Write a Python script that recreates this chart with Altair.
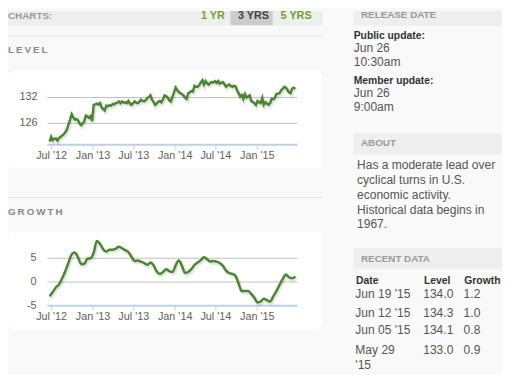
import altair as alt
import pandas as pd

# ---------------- data ----------------
first_week = "2012-06-22"  # weekly observations, Fridays, through Jun 19 2015
level_values = [
    121.8, 122.9, 122.1, 122.4, 122.5, 122.0, 122.6, 122.9, 123.2, 123.5,
    124.0, 124.6, 125.8, 126.9, 128.1, 127.4, 126.9, 127.0, 126.7, 126.0,
    125.6, 126.0, 126.5, 127.8, 127.6, 127.3, 127.7, 126.5, 130.3, 130.4,
    130.6, 130.4, 130.7, 129.7, 129.3, 129.0, 130.1, 130.0, 130.2, 130.1,
    130.5, 130.4, 130.7, 130.8, 131.1, 130.7, 131.1, 130.8, 130.9, 130.7,
    131.2, 130.6, 130.3, 130.7, 131.1, 130.8, 130.7, 131.0, 131.5, 131.2,
    131.1, 131.4, 131.9, 132.1, 132.5, 131.5, 131.0, 130.3, 130.6, 131.0,
    131.2, 130.9, 131.6, 132.5, 132.3, 132.0, 131.4, 131.1, 132.2, 133.2,
    134.3, 133.7, 133.3, 133.0, 132.8, 132.5, 132.0, 131.7, 133.0, 133.2,
    133.5, 133.4, 134.7, 134.5, 134.5, 134.9, 135.5, 136.0, 135.0, 135.8,
    135.3, 135.0, 135.4, 135.6, 135.5, 135.8, 135.4, 135.8, 135.2, 135.4,
    135.6, 135.1, 134.5, 134.8, 135.0, 134.7, 134.5, 134.7, 134.6, 133.7,
    133.0, 132.2, 132.6, 131.7, 132.8, 132.0, 132.2, 132.5, 131.2, 131.0,
    130.7, 130.3, 131.2, 130.9, 130.7, 131.9, 130.3, 130.9, 130.6, 130.3,
    130.7, 131.7, 131.6, 131.9, 132.8, 132.9, 133.0, 133.7, 134.0, 134.5,
    134.3, 133.8, 133.2, 133.0, 134.1, 134.3, 134.0,
]
# growth, every second week
growth_values = [
    -3.0, -2.1, -1.1, -0.5, 0.8, 2.3, 4.1, 5.8, 6.2, 5.2,
    3.8, 3.8, 4.9, 5.0, 6.2, 8.6, 8.0, 6.9, 6.4, 6.8,
    6.8, 7.0, 7.4, 7.1, 6.7, 6.3, 5.3, 4.4, 4.5, 4.3,
    4.0, 3.6, 4.1, 3.5, 2.2, 1.7, 2.1, 2.7, 2.3, 2.1,
    3.5, 4.5, 3.4, 1.9, 2.1, 2.7, 3.6, 4.1, 4.6, 5.2,
    4.8, 4.3, 4.4, 4.3, 4.0, 3.4, 2.4, 1.9, 1.7, 1.3,
    -0.3, -1.9, -1.9, -1.9, -2.5, -3.3, -4.3, -4.1, -3.5, -3.8,
    -4.1, -3.0, -1.9, -0.6, 0.6, 1.6, 1.0, 0.8, 1.2,
]
tick_dates = ["2012-07-01", "2013-01-01", "2013-07-01", "2014-01-01", "2014-07-01", "2015-01-01"]
tick_labels = ["Jul '12", "Jan '13", "Jul '13", "Jan '14", "Jul '14", "Jan '15"]
level_ticks = [126, 132]
growth_ticks = [-5, 0, 5]

tabs = ["1 YR", "3 YRS", "5 YRS"]
release_public = ["Jun 26", "10:30am"]
release_member = ["Jun 26", "9:00am"]
about_lines = ["Has a moderate lead over", "cyclical turns in U.S.", "economic activity.",
               "Historical data begins in", "1967."]
recent_dates = ["Jun 19 '15", "Jun 12 '15", "Jun 05 '15", "May 29 '15"]
recent_level = [134.0, 134.3, 134.1, 133.0]
recent_growth = [1.2, 1.0, 0.8, 0.9]

# ---------------- styles ----------------
BG = "#f9f9f9"
BAND = "#eeeeee"
GREEN = "#4a862d"
FONT = "Liberation Sans"
AXIS_BLUE = "#c0d0e0"
BODY = 12.2

weeks = pd.date_range(first_week, periods=len(level_values), freq="7D")
level_df = pd.DataFrame({"date": weeks.strftime("%Y-%m-%d"), "value": level_values})
growth_df = pd.DataFrame({"date": weeks[::2].strftime("%Y-%m-%d"), "value": growth_values})
tick_df = pd.DataFrame({"date": tick_dates, "label": tick_labels})

one = pd.DataFrame({"k": [0]})


def box(x, x2, y, y2, color, r=0):
    return alt.Chart(one).mark_rect(color=color, cornerRadius=r).encode(
        x=alt.value(x), x2=alt.value(x2), y=alt.value(y), y2=alt.value(y2))


def hline(x, x2, y, color, w=1):
    return alt.Chart(one).mark_rule(color=color, strokeWidth=w).encode(
        x=alt.value(x), x2=alt.value(x2), y=alt.value(y))


def label(s, x, y, size=BODY, color="#555555", bold=False, align="left"):
    kw = dict(text=s, align=align, baseline="alphabetic", fontSize=size, color=color,
              font=FONT, fontWeight="bold" if bold else "normal")
    if "\n" in s:
        kw.update(lineBreak="\n", lineHeight=15)
    return alt.Chart(one).mark_text(**kw).encode(x=alt.value(x), y=alt.value(y))


X_DOMAIN = [alt.DateTime(year=2012, month=6, date=12, utc=True),
            alt.DateTime(year=2015, month=6, date=28, utc=True)]
PX0, PX1 = 40, 294


def panel(df, ydomain, yrange, grid_vals, tick_vals, interp, axis_y, ylab_x):
    xs = alt.Scale(domain=X_DOMAIN, range=[PX0, PX1])
    ys = alt.Scale(domain=ydomain, range=yrange, nice=False, zero=False)
    X = alt.X("date:T", scale=xs, axis=None)
    Y = alt.Y("value:Q", scale=ys, axis=None)
    grid = alt.Chart(pd.DataFrame({"value": grid_vals})).mark_rule(
        color="#c0c0c0", strokeWidth=1).encode(y=Y, x=alt.value(PX0), x2=alt.value(PX1))
    axisline = hline(PX0, PX1, axis_y, AXIS_BLUE, 2)
    ticks = alt.Chart(tick_df).mark_rule(color=AXIS_BLUE, strokeWidth=1).encode(
        x=X, y=alt.value(axis_y), y2=alt.value(axis_y + 5))
    xlabels = alt.Chart(tick_df).mark_text(
        fontSize=11, color="#606060", font=FONT, baseline="middle", align="center").encode(
        x=X, y=alt.value(axis_y + 11), text="label:N")
    ylabels = alt.Chart(pd.DataFrame({"value": tick_vals, "label": [str(v) for v in tick_vals]})).mark_text(
        fontSize=11, color="#606060", font=FONT, baseline="middle", align="right").encode(
        y=Y, x=alt.value(ylab_x), text="label:N")
    shadow = alt.Chart(df).mark_line(color="#000000", opacity=0.1, strokeWidth=4,
                                     xOffset=1, yOffset=1.5, interpolate=interp).encode(x=X, y=Y)
    line = alt.Chart(df).mark_line(color=GREEN, strokeWidth=2.5, interpolate=interp).encode(x=X, y=Y)
    return alt.layer(grid, axisline, ticks, shadow, line, ylabels, xlabels)


level_panel = panel(level_df, [121, 137], [136.2, 66.1], level_ticks, level_ticks,
                    "linear", 136, 30)
growth_panel = panel(growth_df, [-5, 10], [299.7, 227.1], [0, 5], growth_ticks,
                     "monotone", 299.7, 29)

decor = [
    # left column header
    box(0, 320, 0, 14.5, BAND),
    box(226, 269, 0, 14.5, "#cccccc"),
    label("CHARTS:", 0, 8.7, 10, "#999999", True),
    label(tabs[0], 196, 8.7, 11, "#7a9e2e", True),
    label(tabs[1], 233.7, 8.7, 11, "#444444", True),
    label(tabs[2], 277, 8.7, 11, "#6e9e28", True),
    hline(0, 320, 25.3, "#e4e4e4"),
    label("L\u2009E\u2009V\u2009E\u2009L", 0, 42.7, 10, "#888888", True),
    box(0, 319, 61, 160, "#ffffff", 6),
    hline(0, 320, 189.7, "#e4e4e4"),
    label("G\u2009R\u2009O\u2009W\u2009T\u2009H", 0, 207, 10, "#888888", True),
    box(0, 319, 225, 324, "#ffffff", 6),
    # right column
    box(351, 502, 0, 14.7, BAND),
    label("RELEASE DATE", 358.7, 7.2, 10, "#999999", True),
    label("Public update:", 351.3, 28.3, 10.5, "#333333", True),
    label(release_public[0], 351.3, 41.3),
    label(release_public[1], 351.3, 56.3),
    label("Member update:", 351.3, 74.0, 10.5, "#333333", True),
    label(release_member[0], 351.3, 87),
    label(release_member[1], 351.3, 101.3),
    box(351, 502, 124.3, 146, BAND),
    label("ABOUT", 358.7, 137.7, 10, "#999999", True),
]
for i, s in enumerate(about_lines):
    decor.append(label(s, 354.7, 161 + 15 * i))

decor += [
    box(351, 502, 241, 262, BAND),
    label("RECENT DATA", 358.7, 254.7, 10, "#999999", True),
    label("Date", 353.7, 277, 10.5, "#333333", True),
    label("Level", 422.7, 277, 10.5, "#333333", True),
    label("Growth", 463.7, 277, 10.5, "#333333", True),
]
row_base = [292, 310.7, 328.7, 348.7]
for i, d in enumerate(recent_dates):
    shown = d.replace(" '", "\n'") if d.startswith("May") else d
    decor.append(label(shown, 353, row_base[i]))
    decor.append(label(f"{recent_level[i]:.1f}", 422, row_base[i]))
    decor.append(label(f"{recent_growth[i]:.1f}", 463, row_base[i]))

chart = alt.layer(*decor, level_panel, growth_panel).resolve_scale(
    x="independent", y="independent"
).properties(
    width=502, height=367, padding=0, background=BG,
    autosize=alt.AutoSizeParams(type="none"),
).configure_view(strokeWidth=0)

chart.save("out.html", embed_options={"renderer": "svg", "actions": False})
